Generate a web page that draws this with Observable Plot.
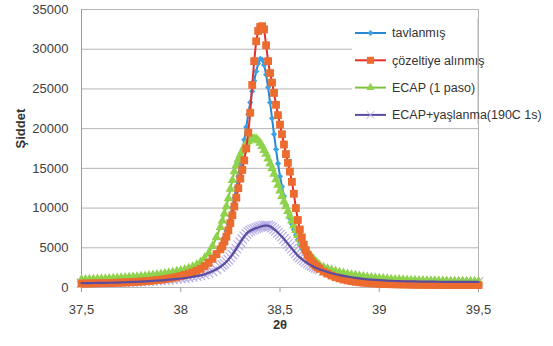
<!DOCTYPE html>
<html><head><meta charset="utf-8">
<script src="https://cdn.jsdelivr.net/npm/d3@7"></script>
<script src="https://cdn.jsdelivr.net/npm/@observablehq/plot@0.6"></script>
<style>
body{margin:0;background:#fff}
#chart{position:relative;width:553px;height:346px}
</style>
</head><body><div id="chart"></div>
<script>
// 2θ sampling positions (degrees)
const theta = [
37.50,37.52,37.54,37.56,37.58,37.60,37.62,37.64,37.66,37.68,
37.70,37.72,37.74,37.76,37.78,37.80,37.82,37.84,37.86,37.88,
37.90,37.92,37.94,37.96,37.98,
38.00,38.02,38.04,38.06,38.08,38.10,38.12,38.14,38.16,38.18,38.20,
38.21,38.22,38.23,38.24,38.25,38.26,38.27,38.28,38.29,
38.30,38.31,38.32,38.33,38.34,38.35,38.36,38.37,38.38,38.39,
38.40,38.41,38.42,38.43,38.44,38.45,38.46,38.47,38.48,38.49,
38.50,38.51,38.52,38.53,38.54,38.55,38.56,38.57,38.58,38.59,
38.60,38.61,38.62,38.63,38.64,38.65,38.66,38.67,38.68,38.69,
38.70,38.72,38.74,38.76,38.78,
38.80,38.82,38.84,38.86,38.88,
38.90,38.92,38.94,38.96,38.98,
39.00,39.02,39.04,39.06,39.08,
39.10,39.12,39.14,39.16,39.18,
39.20,39.22,39.24,39.26,39.28,
39.30,39.32,39.34,39.36,39.38,
39.40,39.42,39.44,39.46,39.48,
39.50];

const tavlanmis = [
650,660,670,680,690,700,710,720,740,760,
780,800,820,850,880,910,950,990,1040,1090,
1150,1220,1300,1390,1490,
1600,1730,1880,2050,2250,2500,2850,3300,3800,4400,5100,
5600,6300,7100,8000,9000,10100,11300,12600,14000,
15500,17000,18600,20200,21800,23300,24700,26000,27200,28200,
28800,28700,28000,26800,25200,23300,21300,19300,17400,15600,
14000,12700,11500,10400,9500,8700,8000,7300,6600,6000,
5400,4900,4500,4100,3800,3500,3250,3000,2800,2650,
2500,2250,2050,1880,1730,
1600,1500,1400,1320,1250,
1180,1120,1070,1020,980,
940,910,880,860,840,
820,800,790,780,770,
760,755,750,745,740,
735,730,725,720,715,
710,705,700,700,700,
700];

const cozeltiye = [
500,500,510,520,530,540,550,560,580,600,
620,640,660,690,720,750,790,830,880,930,
990,1060,1140,1230,1330,
1450,1580,1730,1900,2100,2350,2700,3100,3600,4200,4800,
5200,5800,6400,7200,8100,9100,10200,11300,12500,
13700,14800,16000,17500,19500,22000,25500,28500,31000,32300,
32800,32900,32500,30500,28500,27000,25800,24500,23000,21700,
20500,19300,18000,16800,15700,14600,13300,11800,10000,8500,
7300,6300,5400,4700,4100,3700,3300,3000,2750,2550,
2350,2000,1750,1500,1300,
1150,1000,900,800,720,
660,610,570,530,500,
470,450,430,410,400,
390,380,370,360,350,
340,335,330,325,320,
315,310,305,300,300,
300,300,300,300,300,
300];

const ecap1 = [
1000,1010,1020,1040,1060,1080,1100,1120,1150,1180,
1210,1240,1270,1310,1350,1390,1440,1490,1550,1610,
1680,1750,1830,1920,2020,
2130,2260,2420,2600,2850,3200,3700,4300,5200,6300,7600,
8400,9300,10200,11200,12400,13500,14600,15400,16100,
16700,17200,17700,18100,18400,18600,18700,18750,18700,18500,
18200,17800,17300,16800,16200,15600,15000,14300,13600,12900,
12200,11500,10800,10200,9600,9000,8400,7800,7200,6600,
6100,5600,5200,4800,4400,4100,3800,3500,3250,3000,
2800,2550,2350,2200,2050,
1900,1800,1700,1600,1520,
1450,1380,1320,1260,1210,
1160,1120,1080,1040,1010,
980,950,930,910,890,
870,860,850,840,830,
820,810,800,790,780,
770,760,750,750,740,
740];

const ecapYas = [
550,555,560,565,570,580,590,600,610,620,
640,660,680,700,720,740,770,800,830,860,
900,940,980,1030,1080,
1130,1190,1260,1340,1430,1530,1650,1850,2050,2300,2600,
2800,3000,3250,3500,3800,4150,4500,4900,5300,
5700,6100,6450,6750,7000,7150,7280,7380,7480,7560,
7650,7720,7780,7800,7780,7700,7550,7350,7150,6900,
6650,6400,6100,5800,5500,5200,4900,4600,4300,4000,
3780,3580,3380,3200,3030,2880,2740,2610,2490,2380,
2280,2100,1950,1800,1670,
1560,1460,1370,1290,1210,
1140,1080,1030,990,950,
920,890,860,840,820,
800,790,780,770,760,
750,745,740,735,730,
725,720,715,710,705,
700,700,700,700,700,
700];

const seriesNames = ["tavlanmış", "çözeltiye alınmış", "ECAP (1 paso)", "ECAP+yaşlanma(190C 1s)"];
const xTicks = [37.5, 38, 38.5, 39, 39.5];
const yTicks = [0, 5000, 10000, 15000, 20000, 25000, 30000, 35000];

const rows = arr => theta.map((t, i) => ({t, v: arr[i]}));
const blue = rows(tavlanmis), red = rows(cozeltiye), green = rows(ecap1), purple = rows(ecapYas);

const C = {
  blueLine: "#2787d3", blueMark: "#3aa2e6",
  redLine: "#e4302a", redMark: "#ec6b2e",
  greenLine: "#7cc43e", greenMark: "#8fd24c",
  purpleLine: "#5b4c9f", purpleMark: "#b6ade6"
};

const plot = Plot.plot({
  width: 553, height: 346,
  marginLeft: 81, marginRight: 75, marginTop: 9, marginBottom: 59,
  x: {domain: [37.5, 39.5]},
  y: {domain: [0, 35000]},
  style: {fontFamily: "'Liberation Sans', Arial, sans-serif", fontSize: "13px", color: "#404040", background: "#fff"},
  marks: [
    Plot.gridY(yTicks, {stroke: "#b5b5b5", strokeOpacity: 1}),
    Plot.ruleX([39.5], {stroke: "#b5b5b5"}),
    Plot.ruleX([37.5], {stroke: "#9a9a9a"}),
    Plot.axisX(xTicks, {tickSize: 5, tickPadding: 12, stroke: "#9a9a9a", label: null,
      tickFormat: d => String(d).replace(".", ",")}),
    Plot.axisY(yTicks, {tickSize: 0, tickPadding: 13, label: null, tickFormat: d => String(d)}),
    Plot.text(["Şiddet"], {frameAnchor: "left", dx: -61, rotate: -90, fontWeight: "bold", fontSize: 13, fill: "#333"}),
    Plot.text(["2θ"], {frameAnchor: "bottom", dy: 41, fontWeight: "bold", fontSize: 13, fill: "#333"}),
    Plot.dot(purple, {x: "t", y: "v", symbol: "times", r: 4.4, stroke: C.purpleMark, strokeWidth: 1.2}),
    Plot.line(blue, {x: "t", y: "v", stroke: C.blueLine, strokeWidth: 2}),
    Plot.dot(blue, {x: "t", y: "v", symbol: "diamond2", r: 2.8, fill: C.blueMark}),
    Plot.line(green, {x: "t", y: "v", stroke: C.greenLine, strokeWidth: 2}),
    Plot.dot(green, {x: "t", y: "v", symbol: "triangle", r: 3.6, fill: C.greenMark}),
    Plot.line(red, {x: "t", y: "v", stroke: C.redLine, strokeWidth: 2}),
    Plot.dot(red, {x: "t", y: "v", symbol: "square", r: 4.4, fill: C.redMark}),
    Plot.line(purple, {x: "t", y: "v", stroke: C.purpleLine, strokeWidth: 2.2})
  ]
});
document.getElementById("chart").appendChild(plot);

// Legend (inside plot area, top right)
const svg = d3.select(plot);
const xR = plot.scale("x").apply(39.5);
const lg = svg.append("g")
  .attr("font-family", "'Liberation Sans', Arial, sans-serif")
  .attr("font-size", 12.5)
  .attr("text-anchor", "start");
lg.append("rect").attr("x", 352).attr("y", 18).attr("width", xR - 352).attr("height", 106).attr("fill", "#fff");
lg.append("line").attr("x1", xR).attr("x2", xR).attr("y1", 18).attr("y2", 124).attr("stroke", "#b5b5b5");
const entries = [
  {line: C.blueLine, mark: C.blueMark, sym: d3.symbolDiamond2, size: 22, fill: true},
  {line: C.redLine, mark: C.redMark, sym: d3.symbolSquare, size: 50, fill: true},
  {line: C.greenLine, mark: C.greenMark, sym: d3.symbolTriangle, size: 30, fill: true},
  {line: C.purpleLine, mark: C.purpleMark, sym: d3.symbolTimes, size: 40, fill: false}
];
entries.forEach((e, i) => {
  const y = 33 + i * 27.3;
  lg.append("line").attr("x1", 355).attr("x2", 386).attr("y1", y).attr("y2", y)
    .attr("stroke", e.line).attr("stroke-width", 2);
  const p = lg.append("path").attr("d", d3.symbol(e.sym, e.size)()).attr("transform", `translate(370.5,${y})`);
  if (e.fill) p.attr("fill", e.mark); else p.attr("fill", "none").attr("stroke", e.mark);
  lg.append("text").attr("x", 392).attr("y", y).attr("dy", "0.35em").attr("text-anchor", "start")
    .attr("fill", "#333").text(seriesNames[i]);
});
</script>
</body></html>
